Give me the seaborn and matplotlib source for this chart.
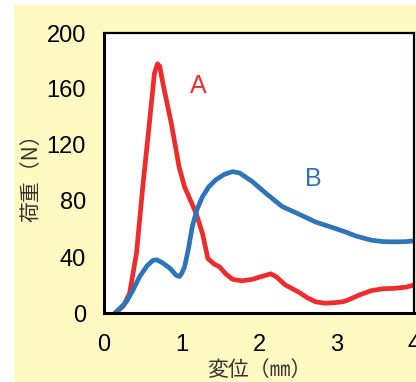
import matplotlib
matplotlib.use("Agg")
import matplotlib.pyplot as plt
import seaborn as sns
import pandas as pd
from matplotlib.patches import Rectangle

# Data
xa = [0.15, 0.25, 0.33, 0.42, 0.50, 0.59, 0.65, 0.69, 0.72, 0.76, 0.87, 0.97, 1.04, 1.12, 1.19, 1.27, 1.34, 1.42, 1.49, 1.57, 1.66, 1.78, 1.91, 2.03, 2.15, 2.22, 2.34, 2.51, 2.62, 2.73, 2.85, 2.98, 3.08, 3.15, 3.30, 3.45, 3.60, 3.75, 3.90, 4.00]
ya = [0, 5, 14, 43, 90, 138, 171, 178, 176, 164, 135, 104, 90, 80, 71, 57, 39, 35, 33, 28, 24, 23, 24, 26, 28, 26, 20, 15, 11, 8, 7, 7.4, 8, 9.3, 13, 16, 17.3, 17.6, 18.5, 20]
xb = [0.14, 0.20, 0.29, 0.37, 0.46, 0.56, 0.63, 0.68, 0.75, 0.85, 0.93, 0.97, 1.00, 1.04, 1.09, 1.14, 1.20, 1.27, 1.35, 1.44, 1.55, 1.66, 1.75, 1.91, 2.10, 2.30, 2.50, 2.73, 2.95, 3.11, 3.25, 3.45, 3.60, 3.75, 3.90, 4.00]
yb = [0, 3, 8, 16, 26, 34, 37.5, 38, 36, 32, 27, 26, 28, 33, 46, 62, 74, 83, 90, 95, 99, 101, 100, 94, 85, 76, 71, 65, 61, 58, 55, 52, 51, 50.8, 51, 51.5]
xticks = [0, 1, 2, 3, 4]
yticks = [0, 40, 80, 120, 160, 200]
xlabel = "変位（㎜）"
ylabel = "荷重（N）"

red = "#EE2C2C"
blue = "#2E74B8"
bg = "#FFF9C2"

df = pd.concat([
    pd.DataFrame({"x": xa, "y": ya, "s": "A"}),
    pd.DataFrame({"x": xb, "y": yb, "s": "B"}),
])

sns.set_theme(style="white")
plt.rcParams["font.family"] = ["Liberation Sans", "Noto Sans CJK JP", "DejaVu Sans"]

fig = plt.figure(figsize=(4.16, 3.82), dpi=100, facecolor="white")
fig.patches.append(Rectangle((14 / 416, 0), 1 - 14 / 416, 1 - 5 / 382,
                             transform=fig.transFigure, facecolor=bg,
                             edgecolor="none", zorder=-10))
ax = fig.add_axes([104 / 416, 1 - 313 / 382, 310 / 416, 280 / 382])
ax.set_zorder(5)
ax.set_facecolor("white")

sns.lineplot(data=df, x="x", y="y", hue="s", palette={"A": red, "B": blue},
             linewidth=3.4, legend=False, ax=ax, sort=False,
             solid_capstyle="round", solid_joinstyle="round")

ax.set_xlim(0, 4)
ax.set_ylim(0, 200)
ax.set_xticks(xticks)
ax.set_yticks(yticks)
ax.set_xticklabels([str(t) for t in xticks])
ax.set_yticklabels([str(t) for t in yticks])
ax.tick_params(axis="both", direction="in", length=5.5, width=1.6,
               color="black", labelsize=17, labelcolor="black")
ax.tick_params(axis="y", pad=13)
ax.tick_params(axis="x", pad=15)
for sp in ax.spines.values():
    sp.set_color("black")
    sp.set_linewidth(1.6)
ax.spines["left"].set_linewidth(2.2)
ax.spines["bottom"].set_linewidth(2.2)

ax.set_xlabel(xlabel, family=["Noto Sans CJK JP", "DejaVu Sans"], fontsize=15,
              color="#333333", labelpad=2)
ax.set_ylabel(ylabel, family=["Noto Sans CJK JP", "DejaVu Sans"], fontsize=15,
              color="#333333", labelpad=3)

ax.text(1.21, 162, "A", color=red, fontsize=18, ha="center", va="center")
ax.text(2.70, 96, "B", color=blue, fontsize=18, ha="center", va="center")

fig.savefig("out.png", dpi=100, facecolor="white")
